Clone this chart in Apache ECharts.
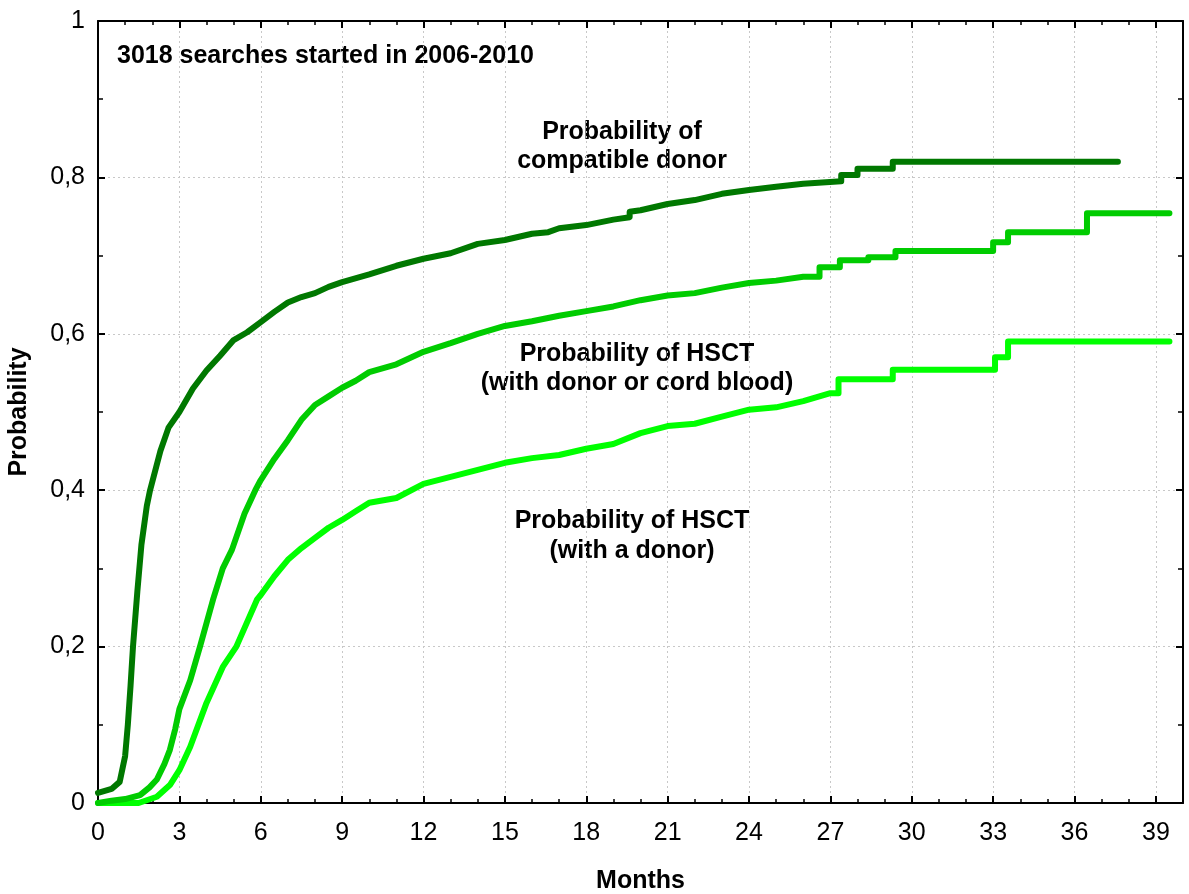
<!DOCTYPE html>
<html>
<head>
<meta charset="utf-8">
<script src="https://cdn.jsdelivr.net/npm/echarts@6/dist/echarts.min.js"></script>
<style>html,body{margin:0;padding:0;background:#fff}#c{width:1189px;height:894px}</style>
</head>
<body>
<div id="c"></div>
<script>
var compatibleDonor = [[0,0.013],[0.5,0.018],[0.8,0.027],[1.0,0.06],[1.1,0.1],[1.2,0.15],[1.29,0.2],[1.45,0.27],[1.6,0.33],[1.8,0.38],[1.92,0.4],[2.3,0.45],[2.6,0.48],[3.0,0.5],[3.5,0.53],[4,0.553],[4.5,0.572],[5,0.592],[5.5,0.602],[6,0.615],[6.5,0.628],[7,0.64],[7.5,0.647],[8,0.652],[8.5,0.66],[9,0.666],[10,0.676],[11,0.687],[12,0.696],[13,0.703],[14,0.715],[15,0.72],[16,0.728],[16.6,0.73],[17,0.735],[18,0.739],[19,0.746],[19.6,0.749],[19.6,0.756],[20,0.758],[21,0.766],[22,0.771],[23,0.779],[24,0.784],[25,0.788],[26,0.792],[27.4,0.795],[27.4,0.803],[28.0,0.803],[28.0,0.811],[29.3,0.811],[29.3,0.82],[37.6,0.82]];
var hsctDonorOrCord = [[0,0],[0.5,0.003],[1.0,0.005],[1.55,0.01],[1.9,0.02],[2.17,0.03],[2.45,0.05],[2.65,0.068],[2.85,0.095],[3.0,0.12],[3.4,0.157],[3.76,0.2],[4.24,0.26],[4.6,0.3],[4.94,0.324],[5.4,0.37],[5.8,0.4],[6,0.413],[6.5,0.44],[7,0.464],[7.5,0.49],[8,0.509],[8.5,0.52],[9,0.531],[9.5,0.54],[10,0.551],[11,0.561],[12,0.577],[13,0.588],[14,0.6],[15,0.61],[16,0.616],[17,0.623],[18,0.629],[19,0.635],[20,0.643],[21,0.649],[22,0.652],[23,0.659],[24,0.665],[25,0.668],[26,0.673],[26.6,0.673],[26.6,0.685],[27.35,0.685],[27.35,0.694],[28.4,0.694],[28.4,0.698],[29.4,0.698],[29.4,0.706],[33.0,0.706],[33.0,0.717],[33.55,0.717],[33.55,0.73],[36.46,0.73],[36.46,0.754],[39.5,0.754]];
var hsctDonor = [[0,0],[1.5,0],[2.17,0.008],[2.65,0.023],[3.0,0.042],[3.4,0.072],[4.0,0.128],[4.6,0.174],[5.1,0.2],[5.86,0.26],[6,0.266],[6.5,0.29],[7,0.311],[7.5,0.326],[8,0.339],[8.5,0.352],[9,0.362],[9.5,0.373],[10,0.384],[11,0.39],[12,0.408],[13,0.417],[14,0.426],[15,0.435],[16,0.441],[17,0.445],[18,0.453],[19,0.459],[20,0.473],[21,0.482],[22,0.485],[23,0.494],[24,0.503],[25,0.506],[26,0.514],[27,0.524],[27.3,0.524],[27.3,0.542],[29.3,0.542],[29.3,0.554],[33.07,0.554],[33.07,0.57],[33.55,0.57],[33.55,0.59],[39.5,0.59]];
var xTickLabels = ['0','3','6','9','12','15','18','21','24','27','30','33','36','39'];
var yTickLabels = ['0','0,2','0,4','0,6','0,8','1'];
var seriesNames = ['Probability of compatible donor','Probability of HSCT (with donor or cord blood)','Probability of HSCT (with a donor)'];

var chart = echarts.init(document.getElementById('c'), null, {renderer:'canvas'});
var FONT = 'Liberation Sans, Arial, sans-serif';
function xAxisCfg(pos, main){
  return {
    type:'value', position:pos, min:0, max:40, interval:3,
    name: main ? 'Months' : '', nameLocation:'middle', nameGap:66,
    nameTextStyle:{fontFamily:FONT, fontWeight:'bold', fontSize:25, color:'#000'},
    axisLine:{show:true, onZero:false, lineStyle:{color:'#000', width:2}},
    axisTick:{show:true, inside:true, length:7, lineStyle:{color:'#000', width:2}},
    minorTick:{show:true, splitNumber:3, length:4, lineStyle:{color:'#000', width:1.5}},
    axisLabel:{show:main, margin:18, fontFamily:FONT, fontSize:25, color:'#000',
      formatter:function(v){var i=Math.round(v/3); return (v%3===0 && i<xTickLabels.length)? xTickLabels[i] : '';}},
    splitLine:{show:main, lineStyle:{color:'#c8c8c8', type:[2,3], width:1}},
    minorSplitLine:{show:false}
  };
}
function yAxisCfg(pos, main){
  return {
    type:'value', position:pos, min:0, max:1, interval:0.2,
    name: main ? 'Probability' : '', nameLocation:'middle', nameGap:66,
    nameTextStyle:{fontFamily:FONT, fontWeight:'bold', fontSize:25, color:'#000'},
    axisLine:{show:true, onZero:false, lineStyle:{color:'#000', width:2}},
    axisTick:{show:true, inside:true, length:7, lineStyle:{color:'#000', width:2}},
    minorTick:{show:true, splitNumber:2, length:5, lineStyle:{color:'#000', width:1.5}},
    axisLabel:{show:main, margin:13, fontFamily:FONT, fontSize:25, color:'#000',
      formatter:function(v){return yTickLabels[Math.round(v/0.2)];}},
    splitLine:{show:main, lineStyle:{color:'#c8c8c8', type:[2,3], width:1}}
  };
}
function lineSeries(name, data, color){
  return {name:name, type:'line', data:data, showSymbol:false, symbol:'none', animation:false,
    lineStyle:{color:color, width:6, cap:'round', join:'round'}, itemStyle:{color:color}, z:5};
}
var option = {
  backgroundColor:'#fff',
  animation:false,
  grid:{left:98, right:6, top:21, bottom:91, containLabel:false, outerBoundsMode:'none'},
  xAxis:[xAxisCfg('bottom', true), xAxisCfg('top', false)],
  yAxis:[yAxisCfg('left', true), yAxisCfg('right', false)],
  series:[
    lineSeries(seriesNames[2], hsctDonor, '#00ff00'),
    lineSeries(seriesNames[1], hsctDonorOrCord, '#00cc00'),
    lineSeries(seriesNames[0], compatibleDonor, '#007800')
  ],
  graphic:[
    {type:'text', x:117, y:56, style:{text:'3018 searches started in 2006-2010', fontFamily:FONT, fontWeight:'bold', fontSize:25, fill:'#000', verticalAlign:'middle'}},
    {type:'text', x:622, y:147, style:{text:'Probability of\ncompatible donor', fontFamily:FONT, fontWeight:'bold', fontSize:25, lineHeight:29, fill:'#000', align:'center', verticalAlign:'middle'}},
    {type:'text', x:637, y:369, style:{text:'Probability of HSCT\n(with donor or cord blood)', fontFamily:FONT, fontWeight:'bold', fontSize:25, lineHeight:29, fill:'#000', align:'center', verticalAlign:'middle'}},
    {type:'text', x:632, y:536, style:{text:'Probability of HSCT\n(with a donor)', fontFamily:FONT, fontWeight:'bold', fontSize:25, lineHeight:30, fill:'#000', align:'center', verticalAlign:'middle'}}
  ]
};
chart.setOption(option);
</script>
</body>
</html>
